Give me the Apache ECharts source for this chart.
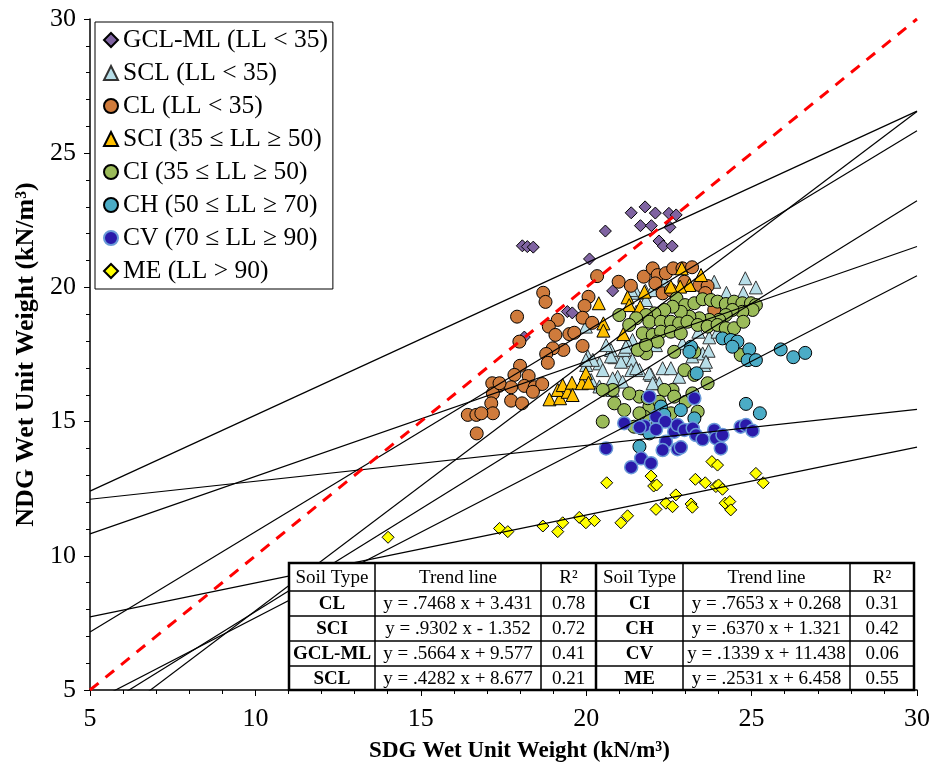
<!DOCTYPE html>
<html><head><meta charset="utf-8">
<script src="https://cdn.jsdelivr.net/npm/echarts@6/dist/echarts.min.js"></script>
<style>html,body{margin:0;padding:0;background:#fff}#c{width:933px;height:768px}</style>
</head><body><div id="c"></div>
<script>
// ---------- DATA ----------
const seriesNames = ['GCL-ML (LL < 35)','SCL (LL < 35)','CL (LL < 35)','SCI (35 \u2264 LL \u2265 50)','CI (35 \u2264 LL \u2265 50)','CH (50 \u2264 LL \u2265 70)','CV (70 \u2264 LL \u2265 90)','ME (LL > 90)'];

const gclmlData = [[18.07,21.55],[18.22,21.52],[18.4,21.5],[20.1,21.06],[20.58,22.1],[21.36,22.78],[21.78,23.0],[22.09,22.77],[22.5,22.76],[22.72,22.7],[21.64,22.3],[21.97,22.3],[22.53,22.24],[22.2,21.73],[22.33,21.54],[22.6,21.54],[20.8,19.87],[19.43,19.1],[19.58,19.05],[18.13,18.15]];

const sclData = [[24.81,20.34],[25.13,20.0],[24.75,19.8],[24.24,19.8],[23.87,20.21],[22.37,20.19],[21.81,19.53],[21.52,19.8],[21.79,19.88],[21.51,19.09],[22.29,19.09],[20.85,17.4],[21.2,17.36],[21.4,17.3],[20.75,17.67],[21.05,17.23],[21.36,16.92],[21.61,16.92],[21.96,16.74],[22.31,16.99],[22.56,16.99],[22.81,16.67],[23.52,17.54],[23.7,17.64],[23.57,17.11],[21.4,18.04],[21.15,17.67],[23.39,18.35],[23.72,18.14],[23.97,18.35],[20.95,16.67],[21.1,16.49],[22.06,16.49],[22.21,16.43],[20.4,17.17],[20.5,16.92],[20.05,17.43],[20.2,17.3],[20.15,16.55],[20.0,17.11],[20.75,17.43],[21.51,16.99],[20.8,16.61],[21.91,16.8],[22.01,16.43],[22.91,17.92],[23.21,17.43],[23.62,17.23],[20.6,17.85],[21.25,17.92],[21.7,17.92],[22.11,17.85],[20.4,16.31],[20.8,16.18],[19.99,18.54],[21.2,17.79],[19.99,17.3],[21.36,19.9],[22.0,19.9]];

const clData = [[20.33,20.42],[18.7,19.8],[18.77,19.46],[17.91,18.91],[17.98,17.98],[18.0,17.08],[20.98,20.21],[21.35,20.06],[21.74,20.4],[20.07,19.65],[19.95,19.31],[19.14,18.79],[18.87,18.54],[19.07,18.23],[19.49,18.26],[19.64,18.31],[19.89,18.87],[20.18,18.68],[19.89,17.82],[19.31,17.67],[18.99,17.73],[18.79,17.52],[18.84,17.19],[22.01,20.71],[22.16,20.46],[22.41,20.53],[22.63,20.71],[22.91,20.71],[23.2,20.75],[22.09,20.15],[22.31,19.78],[22.56,19.9],[22.97,20.21],[23.42,20.09],[23.67,20.05],[23.87,19.16],[23.6,19.79],[17.83,16.74],[18.26,16.7],[17.36,16.33],[17.16,16.43],[17.18,16.05],[17.73,16.28],[18.13,16.33],[18.44,16.28],[18.67,16.4],[18.39,16.11],[17.73,15.78],[18.06,15.68],[17.13,15.68],[17.18,15.31],[16.42,15.25],[16.68,15.25],[16.83,15.31],[16.69,14.56],[17.38,16.43]];

const sciData = [[20.38,19.41],[20.52,18.66],[20.52,18.39],[21.12,18.26],[21.25,19.63],[21.3,19.34],[21.63,19.28],[21.76,19.84],[22.89,20.71],[23.12,20.09],[22.84,20.03],[23.47,20.46],[23.32,18.79],[22.56,20.03],[18.89,15.83],[19.21,15.87],[19.14,16.18],[19.29,16.36],[19.44,16.11],[19.57,16.45],[19.59,15.99],[19.87,16.43],[19.99,16.8],[20.07,16.45]];

const ciData = [[22.73,19.59],[22.99,19.34],[23.27,19.41],[23.52,19.56],[23.77,19.53],[23.97,19.47],[24.22,19.38],[24.47,19.47],[24.72,19.41],[24.98,19.41],[25.13,19.34],[25.03,19.16],[24.72,19.09],[24.42,19.16],[24.22,18.97],[24.02,18.79],[23.72,18.79],[23.42,18.85],[23.12,18.91],[22.86,19.09],[22.61,19.28],[22.36,19.16],[22.06,19.03],[21.81,18.97],[21.51,18.85],[21.3,18.6],[21.0,18.97],[21.91,18.72],[22.26,18.72],[22.56,18.72],[22.81,18.66],[23.06,18.72],[23.37,18.6],[23.67,18.54],[23.97,18.6],[24.22,18.48],[24.47,18.48],[24.75,18.72],[21.71,18.29],[22.01,18.23],[22.26,18.35],[22.56,18.35],[22.86,18.29],[22.16,17.98],[22.66,17.6],[21.81,17.54],[21.56,17.67],[22.97,16.92],[23.27,16.74],[23.67,16.43],[22.61,16.18],[22.36,16.18],[21.61,15.93],[21.3,16.05],[20.8,16.18],[20.5,16.18],[20.85,15.68],[21.15,15.43],[21.91,15.56],[22.21,15.74],[22.66,15.93],[23.01,15.74],[23.21,16.05],[20.5,15.0],[21.76,15.18],[22.16,14.94],[22.56,15.31],[21.45,14.81],[21.66,14.75],[21.86,15.87],[23.37,15.37],[21.81,17.85],[23.27,17.6],[21.61,15.31],[22.21,15.31],[24.67,17.48]];

const chData = [[24.12,18.1],[24.37,18.04],[24.57,17.98],[24.42,17.79],[23.17,17.79],[23.12,17.6],[24.93,17.69],[24.88,17.29],[25.13,17.29],[25.88,17.69],[26.26,17.4],[26.62,17.56],[23.34,16.8],[24.83,15.66],[25.25,15.31],[22.86,15.43],[23.27,15.12],[22.26,15.56],[22.16,15.18],[22.36,15.25],[21.91,14.56],[21.61,14.07]];

const cvData = [[21.91,15.93],[23.27,15.87],[21.15,14.94],[21.76,14.84],[22.11,15.18],[22.39,15.0],[22.11,14.71],[22.66,14.62],[22.76,14.87],[22.97,14.69],[23.22,14.75],[23.32,14.5],[23.52,14.34],[23.87,14.69],[23.92,14.38],[24.12,14.5],[24.07,14.0],[24.67,14.81],[24.83,14.87],[25.03,14.66],[22.41,14.25],[22.31,13.94],[22.76,13.97],[22.86,14.04],[20.6,14.0],[21.66,13.63],[21.96,13.45],[21.36,13.3],[21.61,14.79]];

const meData = [[14.01,10.69],[17.38,11.02],[17.63,10.9],[18.69,11.11],[19.14,10.9],[19.29,11.23],[19.79,11.43],[19.99,11.23],[20.25,11.31],[20.62,12.72],[21.96,12.97],[22.04,12.6],[22.13,12.64],[23.8,13.51],[23.97,13.38],[23.3,12.85],[23.6,12.72],[23.92,12.58],[24.0,12.64],[24.12,12.48],[25.13,13.07],[25.35,12.72],[22.71,12.27],[22.41,11.96],[22.61,11.83],[22.11,11.73],[23.17,11.93],[23.21,11.81],[24.2,11.96],[24.34,12.02],[24.37,11.71],[21.25,11.49],[21.05,11.23]];

// trend lines (from the table)
const trendSoil = ['CL','SCI','GCL-ML','SCL','CI','CH','CV','ME'];
const trendSlope = [0.7468,0.9302,0.5664,0.4282,0.7653,0.6370,0.1339,0.2531];
const trendIntercept = [3.431,-1.352,9.577,8.677,0.268,1.321,11.438,6.458];
const trendText = ['y = .7468 x + 3.431','y = .9302 x - 1.352','y = .5664 x + 9.577','y = .4282 x + 8.677','y = .7653 x + 0.268','y = .6370 x + 1.321','y = .1339 x + 11.438','y = .2531 x + 6.458'];
const trendR2 = ['0.78','0.72','0.41','0.21','0.31','0.42','0.06','0.55'];
const tableHeader = ['Soil Type','Trend line','R\u00B2','Soil Type','Trend line','R\u00B2'];

const axisMin = 5, axisMax = 30, axisStep = 5;
const oneToOne = [[5,5],[30,30]];

// ---------- STYLE ----------
const FONT = 'Liberation Serif';
const styles = [
  {symbol:'diamond', size:12, color:'#8064A2', border:'#000', bw:1},
  {symbol:'triangle', size:13, color:'#B7DEE8', border:'#333', bw:1},
  {symbol:'circle', size:13, color:'#CF7B3C', border:'#000', bw:1},
  {symbol:'triangle', size:13, color:'#FFC000', border:'#000', bw:1},
  {symbol:'circle', size:13, color:'#9BBB59', border:'#000', bw:1},
  {symbol:'circle', size:13, color:'#4BACC6', border:'#000', bw:1},
  {symbol:'circle', size:13, color:'#2A1AAA', border:'#6A9BD8', bw:1.5},
  {symbol:'diamond', size:12, color:'#FFFF00', border:'#000', bw:1}
];
const allData = [gclmlData, sclData, clData, sciData, ciData, chData, cvData, meData];

const series = allData.map((d,i)=>({
  name: seriesNames[i], type:'scatter', data:d,
  symbol: styles[i].symbol, symbolSize: styles[i].size,
  itemStyle:{color:styles[i].color, borderColor:styles[i].border, borderWidth:styles[i].bw, opacity:1},
  z:2, silent:true
}));
trendSlope.forEach((a,i)=>{
  const b = trendIntercept[i];
  series.push({type:'line', name:'trend-'+trendSoil[i], data:[[axisMin, a*axisMin+b],[axisMax, a*axisMax+b]],
    symbol:'none', lineStyle:{color:'#000', width:1.2}, z:3, silent:true, clip:true});
});
series.push({type:'line', name:'1:1', data:oneToOne, symbol:'none',
  lineStyle:{color:'#FF0000', width:3, type:[11,9]}, z:4, silent:true});

// ---------- TABLE (graphic) ----------
const colX = [289,375,541,596,683,850,914];
const rowY = [563,591,616,641,666,690];
const tFont = '19px "' + FONT + '"';
const tFontB = 'bold 19px "' + FONT + '"';
const g = [];
g.push({type:'rect', shape:{x:colX[0], y:rowY[0], width:colX[6]-colX[0], height:rowY[5]-rowY[0]},
  style:{fill:'#fff', stroke:'#000', lineWidth:2.5}, z:100});
for (let c=1;c<6;c++) g.push({type:'line', shape:{x1:colX[c], y1:rowY[0], x2:colX[c], y2:rowY[5]}, style:{stroke:'#000', lineWidth: c===3?2.5:1.5}, z:101});
for (let r=1;r<5;r++) g.push({type:'line', shape:{x1:colX[0], y1:rowY[r], x2:colX[6], y2:rowY[r]}, style:{stroke:'#000', lineWidth:1.5}, z:101});
function cell(c, r, text, font){
  g.push({type:'text', x:(colX[c]+colX[c+1])/2, y:(rowY[r]+rowY[r+1])/2+1,
    style:{text:text, font:font, fill:'#000', align:'center', verticalAlign:'middle'}, z:102});
}
tableHeader.forEach((h,c)=>cell(c,0,h,tFont));
for (let r=0;r<4;r++){
  cell(0,r+1,trendSoil[r],tFontB); cell(1,r+1,trendText[r],tFont); cell(2,r+1,trendR2[r],tFont);
  cell(3,r+1,trendSoil[r+4],tFontB); cell(4,r+1,trendText[r+4],tFont); cell(5,r+1,trendR2[r+4],tFont);
}

// ---------- CHART ----------
const chart = echarts.init(document.getElementById('c'), null, {renderer:'canvas'});
const axisCommon = {
  type:'value', min:axisMin, max:axisMax, interval:axisStep,
  axisLine:{show:true, onZero:false, lineStyle:{color:'#000', width:1.5}},
  axisTick:{show:true, length:6, lineStyle:{color:'#000', width:1}},
  minorTick:{show:true, splitNumber:5, length:4, lineStyle:{color:'#000', width:1}},
  splitLine:{show:false},
  nameLocation:'middle'
};
chart.setOption({
  animation:false,
  backgroundColor:'#fff',
  grid:{left:90, right:15, top:19, bottom:78, containLabel:false},
  xAxis: Object.assign({}, axisCommon, {
    name:'SDG Wet Unit Weight (kN/m\u00B3)', nameGap:50,
    nameTextStyle:{fontFamily:FONT, fontSize:23, fontWeight:'bold', color:'#000', padding:[0,0,0,32]},
    axisLabel:{fontFamily:FONT, fontSize:26, color:'#000', margin:16}
  }),
  yAxis: Object.assign({}, axisCommon, {
    name:'NDG Wet Unit Weight (kN/m\u00B3)', nameGap:50,
    nameTextStyle:{fontFamily:FONT, fontSize:26, fontWeight:'bold', color:'#000'},
    axisLabel:{fontFamily:FONT, fontSize:26, color:'#000', margin:14}
  }),
  legend:{
    data: seriesNames, orient:'vertical', left:95, top:22,
    padding:[5,5,5,8], itemGap:7, itemWidth:14, itemHeight:14,
    textStyle:{fontFamily:FONT, fontSize:25.5, color:'#000', lineHeight:26},
    borderColor:'#000', borderWidth:1, backgroundColor:'#fff', selectedMode:false
  },
  graphic: g,
  series: series
});
</script>
</body></html>
